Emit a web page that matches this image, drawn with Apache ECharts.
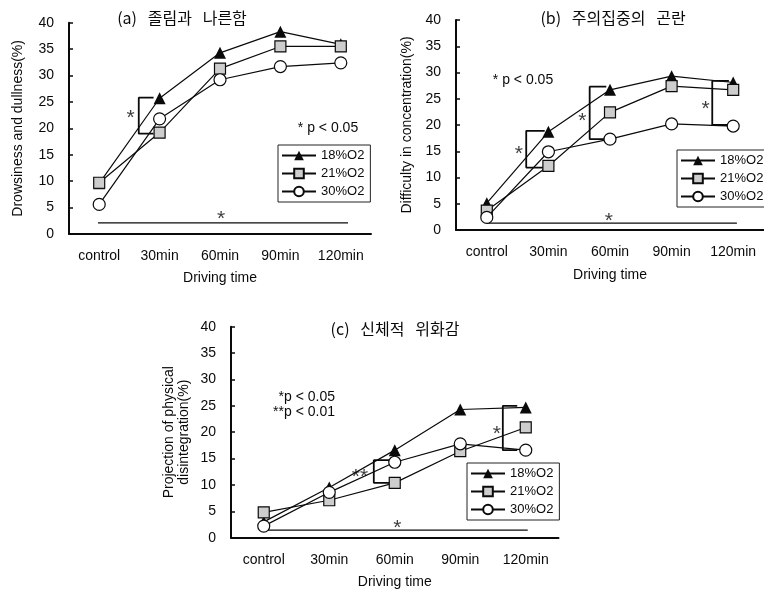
<!DOCTYPE html>
<html><head><meta charset="utf-8">
<script src="https://cdn.jsdelivr.net/npm/echarts@6/dist/echarts.min.js"></script>
<style>html,body{margin:0;padding:0;background:#fff}#c{width:764px;height:590px}</style>
</head><body><div id="c"></div>
<script>
const categories = ['control', '30min', '60min', '90min', '120min'];
const seriesNames = ['18%O2', '21%O2', '30%O2'];
const yMin = 0, yMax = 40, yStep = 5;

// (a) Drowsiness and dullness
const a18 = [9.6, 25.7, 34.3, 38.3, 35.9];
const a21 = [9.7, 19.2, 31.3, 35.5, 35.5];
const a30 = [5.6, 21.8, 29.2, 31.7, 32.4];
// (b) Difficulty in concentration
const b18 = [5.1, 18.7, 26.7, 29.3, 28.1];
const b21 = [3.7, 12.2, 22.4, 27.4, 26.7];
const b30 = [2.4, 14.9, 17.3, 20.2, 19.8];
// (c) Projection of physical disintegration
const c18 = [3.0, 9.5, 16.6, 24.3, 24.7];
const c21 = [4.8, 7.1, 10.4, 16.4, 20.9];
const c30 = [2.2, 8.6, 14.3, 17.8, 16.6];

// significance annotations in data units (category index, value)
const sigLineA = [-0.02, 4.12, 2.1];
const sigLineB = [0.0, 4.06, 1.3];
const sigLineC = [0.0, 4.03, 1.45];
const bracketsA = [[0.655, 0.9, 25.8, 19.0]];
const bracketsB = [[0.64, 0.94, 18.9, 11.9], [1.67, 1.94, 27.3, 17.3], [3.66, 3.93, 28.4, 20.0]];
const bracketsC = [[1.68, 1.93, 14.7, 10.4], [3.65, 3.87, 25.0, 16.6]];
const starsA = [[0.52, 22.8, '*'], [2.02, 3.8, '*']];
const starsB = [[0.52, 15.4, '*'], [1.55, 21.7, '*'], [3.55, 24.0, '*'], [1.98, 2.7, '*']];
const starsC = [[1.47, 12.5, '**'], [3.56, 20.6, '*'], [2.04, 2.8, '*']];

const titles = ['(a)   졸림과   나른함', '(b)   주의집중의   곤란', '(c)   신체적   위화감'];
const yNames = ['Drowsiness and dullness(%)', 'Difficulty in concentration(%)', 'Projection of physical\ndisintegration(%)'];
const xName = 'Driving time';

const LAT = 'Liberation Sans, Arial, sans-serif';
const KR = 'Noto Sans CJK KR, sans-serif';
const INK = '#0a0a0a';

const grids = [
  {left: 69, top: 22.7, width: 302, height: 211.3},
  {left: 456, top: 20, width: 315, height: 210},
  {left: 231, top: 326.7, width: 327.5, height: 211}
];
const yNameGaps = [43, 41, 39];
const xNameGaps = [37, 38, 37];
const xLabelMargins = [15, 15, 15];

const xAxes = [], yAxes = [], series = [];
grids.forEach((g, i) => {
  xAxes.push({
    type: 'category', gridIndex: i, data: categories, boundaryGap: true,
    axisLine: {onZero: false, lineStyle: {color: INK, width: 2}},
    axisTick: {inside: true, length: 6, lineStyle: {color: INK, width: 1.5}},
    axisLabel: {color: INK, fontSize: 14, fontFamily: LAT, margin: xLabelMargins[i], interval: 0},
    name: xName, nameLocation: 'middle', nameGap: xNameGaps[i],
    nameTextStyle: {color: INK, fontSize: 14, fontFamily: LAT}
  });
  yAxes.push({
    type: 'value', gridIndex: i, min: yMin, max: yMax, interval: yStep,
    splitLine: {show: false},
    axisLine: {show: true, onZero: false, lineStyle: {color: INK, width: 2}},
    axisTick: {show: true, inside: true, length: 4, lineStyle: {color: INK, width: 1.5}},
    axisLabel: {color: INK, fontSize: 14, fontFamily: LAT, margin: 15},
    name: yNames[i], nameLocation: 'middle', nameGap: yNameGaps[i], nameRotate: 90,
    nameTextStyle: {color: INK, fontSize: 14, fontFamily: LAT, lineHeight: 15}
  });
});
// hidden value x axes for annotations
grids.forEach((g, i) => {
  xAxes.push({type: 'value', gridIndex: i, min: -0.5, max: 4.5, show: false,
    axisLine: {onZero: false}});
});

const dataSets = [[a18, a21, a30], [b18, b21, b30], [c18, c21, c30]];
const symbols = ['triangle', 'rect', 'circle'];
const fills = [INK, '#cdcdcd', '#ffffff'];
const sizes = [12, 11, 12];
dataSets.forEach((set, gi) => {
  set.forEach((vals, si) => {
    series.push({
      type: 'line', name: seriesNames[si], xAxisIndex: gi, yAxisIndex: gi,
      data: vals, symbol: symbols[si], symbolSize: sizes[si], showAllSymbol: true,
      lineStyle: {color: INK, width: 1.2},
      itemStyle: {color: fills[si], borderColor: INK, borderWidth: si === 0 ? 0 : 1.2},
      z: 3 + si
    });
  });
});

const sigLines = [sigLineA, sigLineB, sigLineC];
const brackets = [bracketsA, bracketsB, bracketsC];
const stars = [starsA, starsB, starsC];
for (let gi = 0; gi < 3; gi++) {
  const s = sigLines[gi];
  series.push({
    type: 'line', xAxisIndex: 3 + gi, yAxisIndex: gi, symbol: 'none', silent: true,
    data: [[s[0], s[2]], [s[1], s[2]]], lineStyle: {color: INK, width: 1.2}, z: 2
  });
  brackets[gi].forEach(b => {
    series.push({
      type: 'line', xAxisIndex: 3 + gi, yAxisIndex: gi, symbol: 'none', silent: true,
      data: [[b[1], b[2]], [b[0], b[2]], [b[0], b[3]], [b[1], b[3]]],
      lineStyle: {color: INK, width: 1.8}, z: 2
    });
  });
  series.push({
    type: 'scatter', xAxisIndex: 3 + gi, yAxisIndex: gi, silent: true,
    symbolSize: 1, itemStyle: {color: 'rgba(0,0,0,0)'},
    data: stars[gi].map(d => ({value: [d[0], d[1]], name: d[2]})),
    label: {show: true, position: 'inside', formatter: p => p.name,
      color: INK, fontSize: 21, fontFamily: LAT, offset: [0, 5]},
    z: 5
  });
}

const legendBase = {
  orient: 'vertical', data: seriesNames, itemWidth: 34, itemHeight: 12, itemGap: 5,
  borderColor: '#222', borderWidth: 1, padding: [4, 6, 4, 3], selectedMode: false,
  textStyle: {color: INK, fontSize: 13, fontFamily: LAT}
};
const legends = [
  Object.assign({}, legendBase, {left: 278, top: 145}),
  Object.assign({}, legendBase, {left: 677, top: 150}),
  Object.assign({}, legendBase, {left: 467, top: 463})
];

const txt = (x, y, text, opts) => ({type: 'text', x: x, y: y,
  style: Object.assign({text: text, fill: INK, font: '14px ' + LAT, textAlign: 'center', textVerticalAlign: 'middle'}, opts || {})});

const graphic = [
  txt(182, 18, titles[0], {font: '16px ' + KR}),
  txt(613, 18, titles[1], {font: '16px ' + KR}),
  txt(395, 329, titles[2], {font: '16px ' + KR}),
  txt(328, 128, '* p < 0.05'),
  txt(523, 80, '* p < 0.05'),
  txt(335, 397, '*p < 0.05', {textAlign: 'right'}),
  txt(335, 412, '**p < 0.01', {textAlign: 'right'})
];

const chart = echarts.init(document.getElementById('c'), null, {renderer: 'canvas'});
chart.setOption({
  backgroundColor: '#fff', animation: false,
  grid: grids, xAxis: xAxes, yAxis: yAxes, legend: legends, series: series, graphic: graphic
});
</script></body></html>
